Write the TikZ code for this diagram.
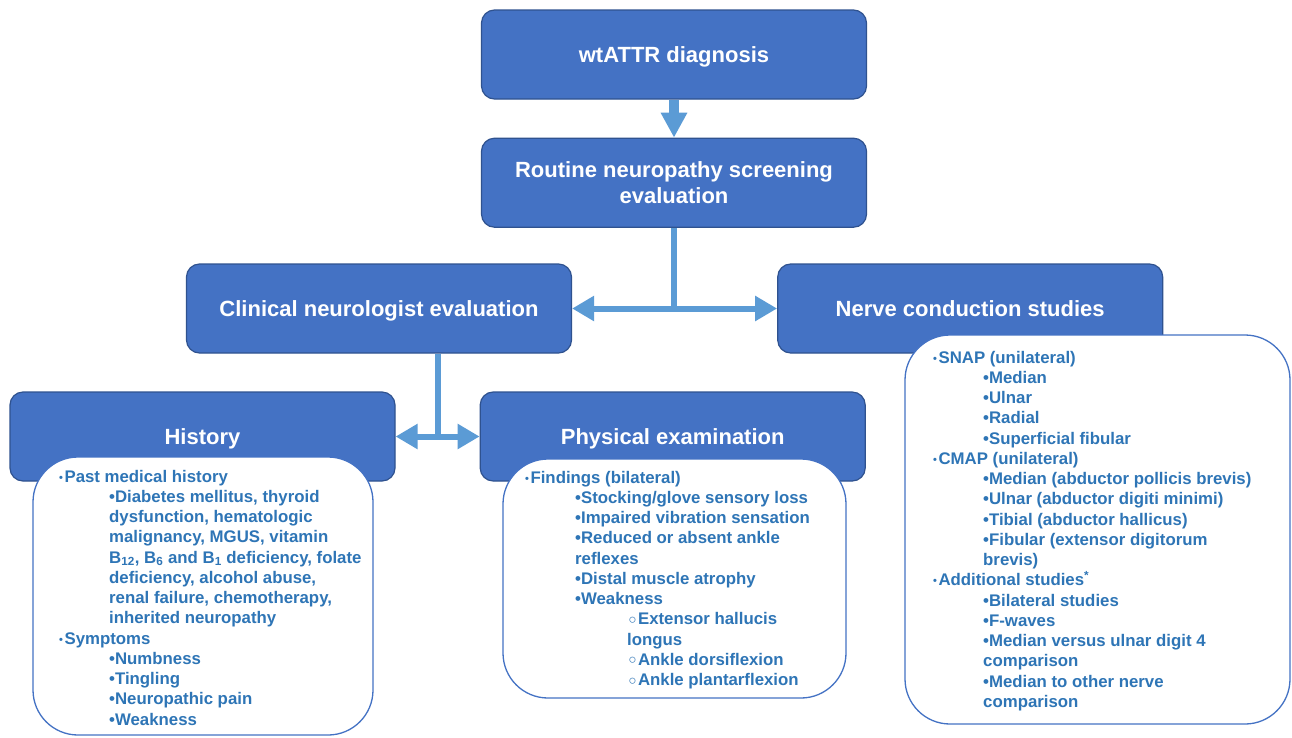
\documentclass[tikz,border=0pt]{standalone}
\usepackage{fontspec}
\setmainfont{Liberation Sans}
\newfontfamily\symfont{DejaVu Sans}
\usepackage{xcolor}
\usetikzlibrary{positioning, arrows.meta, calc}

\definecolor{boxblue}{HTML}{4472C4}
\definecolor{boxedge}{HTML}{2F528F}
\definecolor{arrowblue}{HTML}{5B9BD5}
\definecolor{listblue}{HTML}{2E75B6}
\definecolor{detailedge}{HTML}{4472C4}

% list bullets: level one, two, three and their continuation lines
\newcommand{\lvA}{{\fontsize{11}{11}\selectfont\raisebox{1pt}{•}}\hspace{1.5pt}}
\newcommand{\lvB}{\hspace*{50pt}•}
\newcommand{\cnB}{\hspace*{50pt}}
\newcommand{\lvC}{\hspace*{102pt}{\symfont\fontsize{17}{17}\selectfont\raisebox{-1.5pt}{◦}}}
\newcommand{\cnC}{\hspace*{102pt}}

\begin{document}
\begin{tikzpicture}[
    x=1pt, y=-1pt,
    title/.style={rectangle, draw=boxedge, line width=1.2pt, fill=boxblue, rounded corners=13pt,
                  minimum width=385pt, minimum height=89pt, align=center, text=white, text depth=0pt,
                  font=\fontsize{22}{25.5}\selectfont\bfseries},
    detail/.style={rectangle, draw=detailedge, line width=1.3pt, fill=white, rounded corners=45pt},
    list/.style={anchor=north west, inner sep=0pt, align=left, text=listblue,
                 font=\fontsize{16.8}{20.25}\selectfont\bfseries},
    link/.style={arrowblue, line width=6pt},
    twoway/.style={{Triangle[length=22pt,width=24pt]}-{Triangle[length=22pt,width=24pt]}}
  ]
  \path[use as bounding box, fill=white] (0,0) rectangle (1292,737);

  \node[title] (diag) at (674,54.5) {wtATTR diagnosis};
  \node[title, below=38pt of diag] (routine) {Routine neuropathy screening\\evaluation};
  \node[title] (clin) at (379,308.5) {Clinical neurologist evaluation};
  \node[title, right=205pt of clin] (nerve) {Nerve conduction studies};
  \node[title] (hist) at (202.5,436.5) {History};
  \node[title, right=84pt of hist] (phys) {Physical examination};

  \draw[arrowblue, line width=10pt, -{Triangle[length=25pt,width=25pt]}] (diag) -- (routine);
  \draw[link] (routine.south) -- (routine.south |- clin.east);
  \draw[link, twoway] (clin) -- (nerve);
  \coordinate (fork) at ($(hist.east)!0.5!(phys.west)$);
  \draw[link] (fork |- clin.south) -- (fork);
  \draw[link, twoway] (hist) -- (phys);

  % detail panels
  \node[detail, minimum width=340pt, minimum height=278pt] (histbox) at (203,596) {};
  \node[detail, minimum width=343pt, minimum height=239pt] (physbox) at (674.5,578.5) {};
  \node[detail, minimum width=385pt, minimum height=389pt] (nervebox) at (1097.5,529.5) {};

  \node[list] (histlist) at (59,469.7) {%
    \lvA Past medical history\\
    \lvB Diabetes mellitus, thyroid\\
    \cnB dysfunction, hematologic\\
    \cnB malignancy, MGUS, vitamin\\
    \cnB B\textsubscript{12}, B\textsubscript{6} and B\textsubscript{1} deficiency, folate\\
    \cnB deficiency, alcohol abuse,\\
    \cnB renal failure, chemotherapy,\\
    \cnB inherited neuropathy\\
    \lvA Symptoms\\
    \lvB Numbness\\
    \lvB Tingling\\
    \lvB Neuropathic pain\\
    \lvB Weakness};
  \node[list] (physlist) at (525,470.7) {%
    \lvA Findings (bilateral)\\
    \lvB Stocking/glove sensory loss\\
    \lvB Impaired vibration sensation\\
    \lvB Reduced or absent ankle\\
    \cnB reflexes\\
    \lvB Distal muscle atrophy\\
    \lvB Weakness\\
    \lvC Extensor hallucis\\
    \cnC longus\\
    \lvC Ankle dorsiflexion\\
    \lvC Ankle plantarflexion};
  \node[list] (nervelist) at (933,350.7) {%
    \lvA SNAP (unilateral)\\
    \lvB Median\\
    \lvB Ulnar\\
    \lvB Radial\\
    \lvB Superficial fibular\\
    \lvA CMAP (unilateral)\\
    \lvB Median (abductor pollicis brevis)\\
    \lvB Ulnar (abductor digiti minimi)\\
    \lvB Tibial (abductor hallicus)\\
    \lvB Fibular (extensor digitorum\\
    \cnB brevis)\\
    \lvA Additional studies\textsuperscript{*}\\
    \lvB Bilateral studies\\
    \lvB F-waves\\
    \lvB Median versus ulnar digit 4\\
    \cnB comparison\\
    \lvB Median to other nerve\\
    \cnB comparison};
\end{tikzpicture}
\end{document}
